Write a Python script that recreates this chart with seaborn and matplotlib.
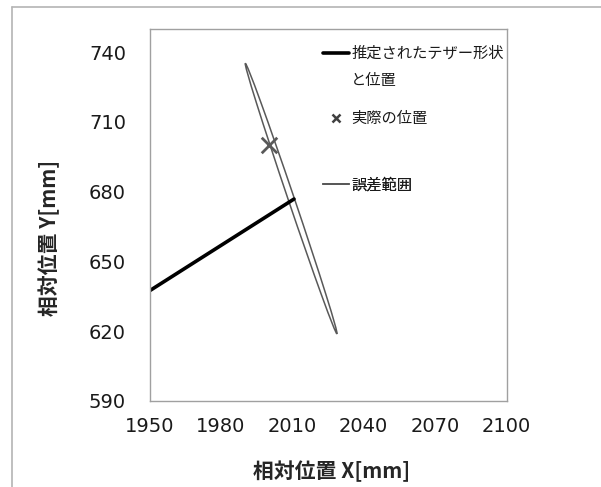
import matplotlib
matplotlib.use("Agg")
import matplotlib.pyplot as plt
import seaborn as sns
import pandas as pd
from matplotlib.patches import Ellipse
from matplotlib.lines import Line2D

# data
tether_x = [1950, 2010.7]
tether_y = [637.3, 676.8]

actual_x = [2000]
actual_y = [700]

# error range (ellipse around the estimated tether end)
err_center = (2009.5, 677.0)
err_semi_major = 61.3
err_semi_minor = 1.3
err_angle = 108.3

x_ticks = [1950, 1980, 2010, 2040, 2070, 2100]
y_ticks = [590, 620, 650, 680, 710, 740]

labels = ["推定されたテザー形状", "実際の位置", "誤差範囲"]
label_cont = "と位置"

sns.set_style("white")
plt.rcParams["font.family"] = ["Noto Sans CJK JP", "DejaVu Sans"]

fig = plt.figure(figsize=(6.01, 4.87), dpi=100)
ax = fig.add_axes([0.2488, 0.1772, 0.594, 0.7633])

df_t = pd.DataFrame({"x": tether_x, "y": tether_y})
sns.lineplot(data=df_t, x="x", y="y", sort=False, color="black", linewidth=2.6, ax=ax)

ell = Ellipse(err_center, 2 * err_semi_major, 2 * err_semi_minor, angle=err_angle,
              fill=False, edgecolor="#595959", linewidth=1.1)
ax.add_patch(ell)

df_a = pd.DataFrame({"x": actual_x, "y": actual_y})
sns.scatterplot(data=df_a, x="x", y="y", marker="x", s=125, color="#595959",
                linewidth=2, ax=ax)

ax.set_xlim(1950, 2100)
ax.set_ylim(590, 750)
ax.set_xticks(x_ticks)
ax.set_yticks(y_ticks)
ax.tick_params(axis="both", direction="in", length=5, width=1, color="#a0a0a0",
               labelsize=14, labelcolor="#1a1a1a")
ax.tick_params(axis="x", pad=12)
ax.tick_params(axis="y", pad=17)
for lab in ax.get_xticklabels() + ax.get_yticklabels():
    lab.set_family(["DejaVu Sans"])
for s in ax.spines.values():
    s.set_color("#a0a0a0")
    s.set_linewidth(1)

ax.set_xlabel("相対位置 X[mm]", fontsize=15, fontweight="bold")
ax.set_ylabel("相対位置 Y[mm]", fontsize=15, fontweight="bold")
ax.xaxis.set_label_coords(0.51, -0.16)
ax.yaxis.set_label_coords(-0.25, 0.438)

# legends, one per entry to keep Excel-like spacing
handles = [
    Line2D([], [], color="black", linewidth=2.6),
    Line2D([], [], color="#404040", marker="x", linestyle="none", markersize=6, markeredgewidth=1.8),
    Line2D([], [], color="#595959", linewidth=1.4),
]
ypos = [0.934, 0.758, 0.580]
for h, lab, yp in zip(handles, labels, ypos):
    leg = ax.legend([h], [lab], loc="center left", bbox_to_anchor=(0.485, yp),
                    frameon=False, borderpad=0, borderaxespad=0, handlelength=1.75,
                    handletextpad=0.15, fontsize=11, labelcolor="#1a1a1a")
    ax.add_artist(leg)
ax.text(0.5644, 0.861, label_cont, transform=ax.transAxes, fontsize=11,
        color="#1a1a1a", ha="left", va="center")

# outer chart border (top and left visible in the crop)
fig.add_artist(Line2D([11.7 / 601, 1.0], [1 - 7.3 / 487, 1 - 7.3 / 487],
                      transform=fig.transFigure, color="#b4b4b4", linewidth=1.2))
fig.add_artist(Line2D([11.7 / 601, 11.7 / 601], [0.0, 1 - 7.3 / 487],
                      transform=fig.transFigure, color="#b4b4b4", linewidth=1.2))

fig.savefig("out.png", dpi=100)
